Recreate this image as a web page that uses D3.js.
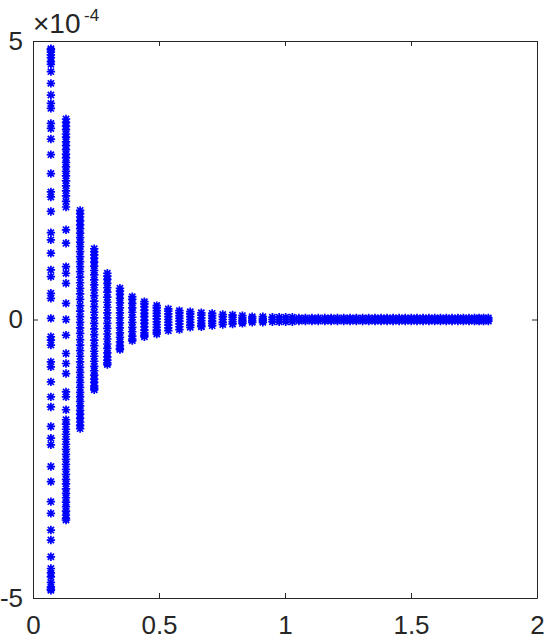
<!DOCTYPE html>
<html>
<head>
<meta charset="utf-8">
<script src="https://cdn.jsdelivr.net/npm/d3@7"></script>
<style>
  body { margin: 0; background: #fff; }
  text { font-family: "Liberation Sans", Arial, sans-serif; fill: #262626; }
</style>
</head>
<body>
<svg id="chart" width="545" height="641"></svg>
<script>
// x position of each column of points
var colX = [0.071, 0.131, 0.187, 0.243, 0.295, 0.345, 0.394, 0.442, 0.491, 0.537,
            0.581, 0.624, 0.668, 0.711, 0.753, 0.792, 0.831, 0.870, 0.912,
            0.950, 0.977, 1.003, 1.029, 1.055, 1.081, 1.107, 1.132, 1.158, 1.183,
            1.208, 1.233, 1.258, 1.283, 1.308, 1.332, 1.357, 1.381, 1.405, 1.429,
            1.453, 1.477, 1.501, 1.524, 1.548, 1.571, 1.594, 1.617, 1.640, 1.663,
            1.686, 1.708, 1.730, 1.752, 1.770, 1.788, 1.807];

// y values of each column, in units of 1e-4
var colY = [
  [4.86, 4.84, 4.80, 4.75, 4.70, 4.63, 4.58, 4.45, 4.24, 4.03, 3.88, 3.79, 3.52, 3.43, 3.24, 2.96,
   2.62, 2.29, 2.20, 1.94, 1.56, 1.43, 1.19, 0.89, 0.77, 0.47, 0.38, 0.02, -0.31, -0.37, -0.46,
   -0.76, -0.85, -1.12, -1.39, -1.57, -1.92, -2.13, -2.25, -2.64, -2.91, -3.27, -3.48, -3.78,
   -3.96, -4.26, -4.47, -4.55, -4.62, -4.72, -4.80, -4.84, -4.86],
  [3.60, 3.54, 3.47, 3.41, 3.33, 3.27, 3.19, 3.12, 3.05, 2.97, 2.90, 2.82, 2.74, 2.66, 2.58, 2.49,
   2.40, 2.31, 2.22, 2.12, 2.02, 1.61, 1.37, 0.95, 0.83, 0.65, 0.29, 0.00, -0.28, -0.61, -0.79,
   -0.97, -1.30, -1.39, -1.62, -1.80, -1.88, -1.97, -2.06, -2.15, -2.24, -2.33, -2.42, -2.51,
   -2.60, -2.69, -2.78, -2.87, -2.95, -3.04, -3.12, -3.20, -3.28, -3.36, -3.44, -3.51, -3.57, -3.60],
  [1.96, 1.90, 1.84, 1.77, 1.70, 1.63, 1.55, 1.47, 1.39, 1.31, 1.22, 1.13, 1.04, 0.95, 0.86, 0.76,
   0.66, 0.56, 0.46, 0.36, 0.25, 0.15, 0.05, -0.05, -0.15, -0.25, -0.36, -0.46, -0.56, -0.66,
   -0.76, -0.86, -0.95, -1.04, -1.13, -1.22, -1.31, -1.39, -1.47, -1.55, -1.63, -1.70, -1.77,
   -1.84, -1.90, -1.96],
  [1.27, 1.22, 1.16, 1.10, 1.03, 0.96, 0.88, 0.80, 0.71, 0.62, 0.53, 0.43, 0.33, 0.23, 0.13, 0.03,
   -0.07, -0.17, -0.27, -0.37, -0.47, -0.57, -0.66, -0.75, -0.84, -0.92, -1.00, -1.07, -1.13,
   -1.19, -1.23, -1.26],
  [0.83, 0.78, 0.72, 0.65, 0.57, 0.49, 0.40, 0.31, 0.22, 0.12, 0.03, -0.07, -0.16, -0.26, -0.35,
   -0.44, -0.52, -0.60, -0.67, -0.73, -0.78, -0.81],
  [0.56, 0.51, 0.45, 0.38, 0.30, 0.21, 0.12, 0.03, -0.06, -0.15, -0.24, -0.32, -0.40, -0.47, -0.52, -0.54],
  [0.41, 0.36, 0.29, 0.21, 0.13, 0.04, -0.05, -0.14, -0.22, -0.30, -0.35, -0.38],
  [0.32, 0.28, 0.23, 0.17, 0.11, 0.05, -0.01, -0.07, -0.13, -0.19, -0.24, -0.28, -0.31],
  [0.25, 0.21, 0.16, 0.11, 0.06, 0.01, -0.04, -0.09, -0.14, -0.19, -0.23, -0.26],
  [0.19, 0.15, 0.10, 0.05, 0.00, -0.05, -0.10, -0.15, -0.20],
  [0.16, 0.12, 0.07, 0.02, -0.03, -0.08, -0.13, -0.18],
  [0.14, 0.10, 0.05, 0.00, -0.05, -0.10, -0.14],
  [0.12, 0.08, 0.03, -0.02, -0.07, -0.11, -0.13],
  [0.11, 0.07, 0.02, -0.03, -0.07, -0.11],
  [0.09, 0.05, 0.00, -0.05, -0.09],
  [0.08, 0.04, 0.00, -0.04, -0.08],
  [0.07, 0.03, -0.01, -0.04, -0.07],
  [0.05, 0.02, -0.02, -0.05],
  [0.05, 0.01, -0.02, -0.05],
  [0.04, 0.00, -0.04], [0.04, 0.00, -0.04], [0.04, 0.00, -0.04], [0.04, 0.00, -0.04],
  [0.03, 0.00, -0.03], [0.03, 0.00, -0.03], [0.03, 0.00, -0.03], [0.03, 0.00, -0.03],
  [0.03, 0.00, -0.03], [0.03, 0.00, -0.03], [0.03, 0.00, -0.03], [0.03, 0.00, -0.03],
  [0.03, 0.00, -0.03], [0.03, 0.00, -0.03], [0.03, 0.00, -0.03], [0.03, 0.00, -0.03],
  [0.03, 0.00, -0.03], [0.03, 0.00, -0.03], [0.03, 0.00, -0.03], [0.03, 0.00, -0.03],
  [0.03, 0.00, -0.03], [0.03, 0.00, -0.03], [0.03, 0.00, -0.03], [0.03, 0.00, -0.03],
  [0.03, 0.00, -0.03], [0.03, 0.00, -0.03], [0.03, 0.00, -0.03], [0.03, 0.00, -0.03],
  [0.03, 0.00, -0.03], [0.03, 0.00, -0.03], [0.03, 0.00, -0.03], [0.03, 0.00, -0.03],
  [0.03, 0.00, -0.03], [0.03, 0.00, -0.03], [0.03, 0.00, -0.03], [0.03, 0.00, -0.03],
  [0.03, 0.00, -0.03]
];

var xTicks = [0, 0.5, 1, 1.5, 2];
var yTicks = [-5e-4, 0, 5e-4];
var yExponent = "-4";

var pLeft = 33, pRight = 537, pTop = 41, pBottom = 598;
var ink = "#262626";

var x = d3.scaleLinear().domain([0, 2]).range([pLeft, pRight]);
var y = d3.scaleLinear().domain([-5e-4, 5e-4]).range([pBottom, pTop]);

var svg = d3.select('#chart');
svg.append('rect').attr('width', 545).attr('height', 641).attr('fill', '#fff');

// flatten to points
var points = [];
colX.forEach((cx, i) => {
    colY[i].forEach(v => points.push({x: cx, y: v * 1e-4}));
});

// asterisk marker: plus and cross
var r = 4.2, d = 3.1;
var star = "M" + (-r) + ",0L" + r + ",0M0," + (-r) + "L0," + r +
           "M" + (-d) + "," + (-d) + "L" + d + "," + d +
           "M" + (-d) + "," + d + "L" + d + "," + (-d);

svg.append('g')
    .selectAll('path')
    .data(points)
    .enter()
    .append('path')
    .attr('d', star)
    .attr('transform', p => "translate(" + x(p.x) + "," + y(p.y) + ")")
    .attr('fill', 'none')
    .attr('stroke', '#0000ff')
    .attr('stroke-width', 1.7);

// axes, ticks pointing inward
var fmtY = v => String(Math.round(v * 1e4));

var gB = svg.append('g')
    .attr('transform', "translate(0," + pBottom + ")")
    .call(d3.axisBottom(x).tickValues(xTicks).tickSizeInner(-5).tickSizeOuter(0).tickPadding(18)
          .tickFormat(d => String(d)));
var gT = svg.append('g')
    .attr('transform', "translate(0," + pTop + ")")
    .call(d3.axisTop(x).tickValues(xTicks).tickSizeInner(-5).tickSizeOuter(0).tickFormat(""));
var gL = svg.append('g')
    .attr('transform', "translate(" + pLeft + ",0)")
    .call(d3.axisLeft(y).tickValues(yTicks).tickSizeInner(-5).tickSizeOuter(0).tickPadding(10)
          .tickFormat(fmtY));
var gR = svg.append('g')
    .attr('transform', "translate(" + pRight + ",0)")
    .call(d3.axisRight(y).tickValues(yTicks).tickSizeInner(-5).tickSizeOuter(0).tickFormat(""));

[gB, gT, gL, gR].forEach(g => {
    g.selectAll('path.domain').attr('stroke', ink).attr('stroke-width', 1);
    g.selectAll('line').attr('stroke', ink);
    g.selectAll('text')
        .style('font-family', '"Liberation Sans", Arial, sans-serif')
        .style('font-size', '26px')
        .attr('fill', ink);
});

// exponent label
svg.append('text')
    .attr('x', 33)
    .attr('y', 33)
    .style('font-size', '28px')
    .text("\u00d710");
svg.append('text')
    .attr('x', 84)
    .attr('y', 21)
    .style('font-size', '17px')
    .text(yExponent);
</script>
</body>
</html>
